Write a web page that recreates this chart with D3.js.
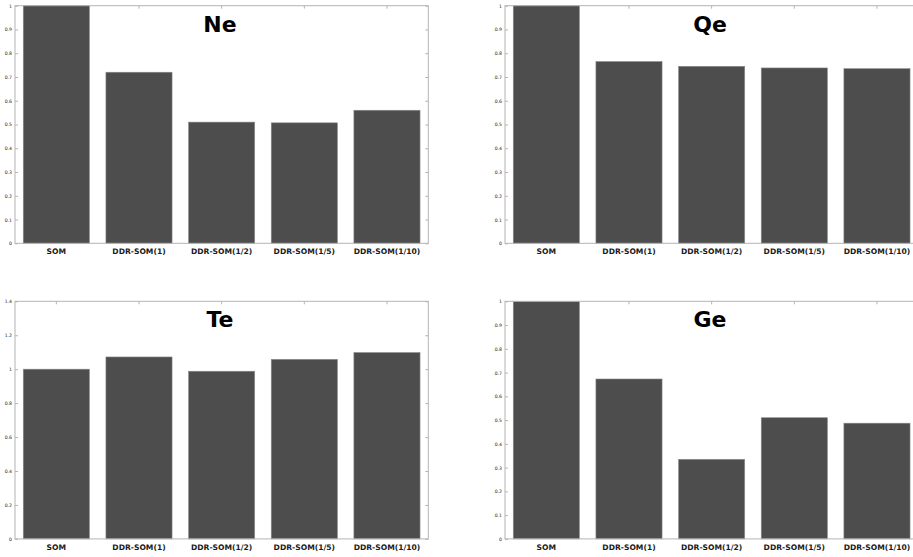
<!DOCTYPE html>
<html>
<head>
<meta charset="utf-8">
<script src="https://cdn.jsdelivr.net/npm/d3@7"></script>
<style>
	body { margin: 0; background: #fff; }
	svg { display: block; font-family: "DejaVu Sans", sans-serif; }
</style>
</head>
<body>
<div id="chart"></div>
<script>
// categories shared by the four panels
var categories = ['SOM', 'DDR-SOM(1)', 'DDR-SOM(1/2)', 'DDR-SOM(1/5)', 'DDR-SOM(1/10)'];

// values
var neValues = [1.0, 0.72, 0.51, 0.507, 0.56];
var qeValues = [1.0, 0.765, 0.745, 0.738, 0.735];
var teValues = [1.0, 1.072, 0.988, 1.058, 1.098];
var geValues = [1.0, 0.673, 0.335, 0.51, 0.487];

// tick labels
var ticksUnit = [0, 0.1, 0.2, 0.3, 0.4, 0.5, 0.6, 0.7, 0.8, 0.9, 1];
var ticksTe = [0, 0.2, 0.4, 0.6, 0.8, 1, 1.2, 1.4];

var panels = [
	{ title: 'Ne', values: neValues, ticks: ticksUnit, max: 1, x: 15, y: 5.7 },
	{ title: 'Qe', values: qeValues, ticks: ticksUnit, max: 1, x: 505, y: 5.7 },
	{ title: 'Te', values: teValues, ticks: ticksTe, max: 1.4, x: 15, y: 301.3 },
	{ title: 'Ge', values: geValues, ticks: ticksUnit, max: 1, x: 505, y: 301.3 }
];

var width = 913, height = 557;
var plotW = 413.3, plotH = 237.6;

var svg = d3.select('#chart').append('svg')
	.attr('width', width)
	.attr('height', height);

panels.forEach(function(p) {

	var g = svg.append('g').attr('transform', 'translate(' + p.x + ',' + p.y + ')');

	var x = d3.scaleBand().domain(categories).range([0, plotW]).paddingInner(0.2).paddingOuter(0.1);
	var y = d3.scaleLinear().domain([0, p.max]).range([plotH, 0]);

	var fmt = function(d) { return d3.format('~g')(d); };

	// left axis with labels, ticks pointing inward
	var left = g.append('g').call(d3.axisLeft(y).tickValues(p.ticks).tickSize(-3).tickPadding(3).tickFormat(fmt));
	left.attr('font-family', null);
	left.selectAll('text').style('font-size', '4.6px').style('fill', '#222');

	// right, top axes only ticks
	var right = g.append('g').attr('transform', 'translate(' + plotW + ',0)')
		.call(d3.axisRight(y).tickValues(p.ticks).tickSize(-3).tickFormat(''));
	var top = g.append('g').call(d3.axisTop(x).tickSize(-3).tickFormat(''));

	// bottom category labels
	var bottom = g.append('g').attr('transform', 'translate(0,' + plotH + ')')
		.call(d3.axisBottom(x).tickSize(0).tickPadding(5.5));
	bottom.attr('font-family', null);
	bottom.selectAll('text').style('font-size', '7.6px').style('font-weight', 'bold').style('fill', '#1a1a1a');

	[left, right, top, bottom].forEach(function(a) {
		a.select('.domain').remove();
		a.selectAll('line').attr('stroke', '#b4b4b4');
	});

	g.selectAll('.bar').data(p.values).enter().append('rect')
		.attr('class', 'bar')
		.attr('x', function(d, i) { return x(categories[i]); })
		.attr('y', function(d) { return y(d); })
		.attr('width', x.bandwidth())
		.attr('height', function(d) { return plotH - y(d); })
		.style('fill', '#4d4d4d')
		.style('stroke', '#8a8a8a')
		.style('stroke-width', 0.6);

	// box round the plot
	g.append('rect')
		.attr('width', plotW)
		.attr('height', plotH)
		.style('fill', 'none')
		.style('stroke', '#b4b4b4')
		.style('stroke-width', 1);

	g.append('text')
		.attr('x', 205)
		.attr('y', 26)
		.attr('text-anchor', 'middle')
		.style('font-size', '22px')
		.style('font-weight', 'bold')
		.style('fill', '#000')
		.text(p.title);
});
</script>
</body>
</html>
